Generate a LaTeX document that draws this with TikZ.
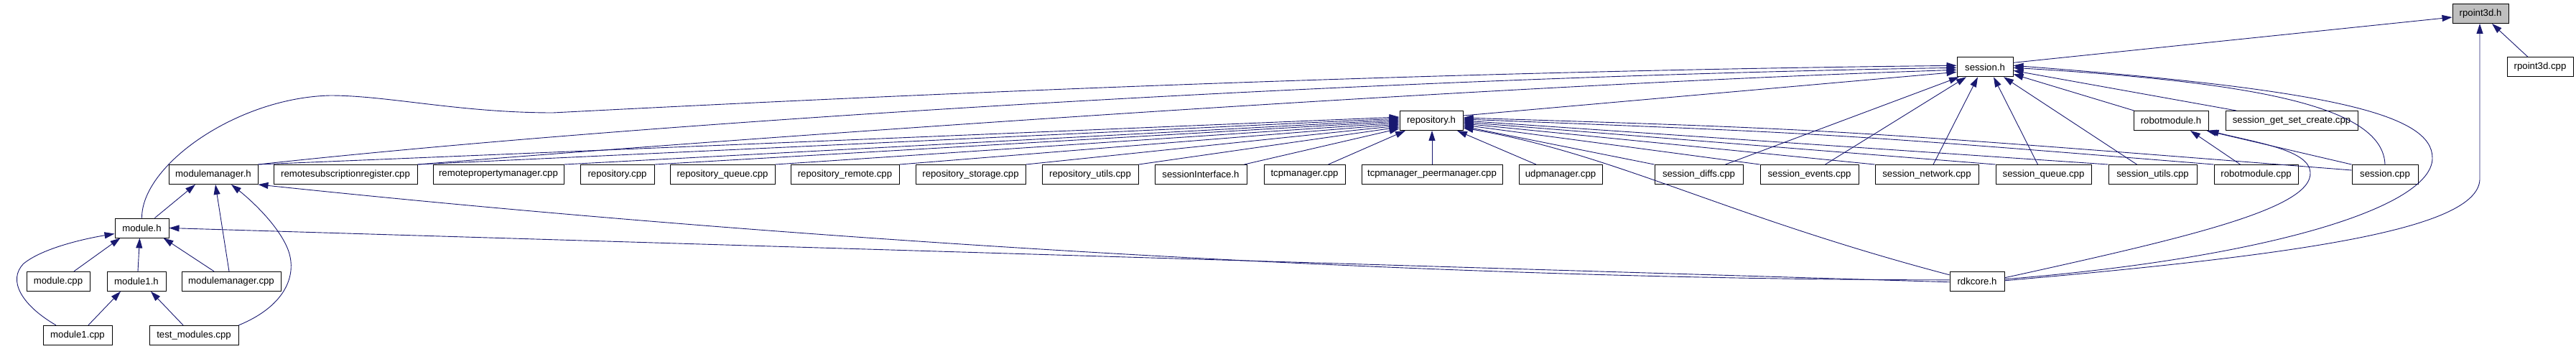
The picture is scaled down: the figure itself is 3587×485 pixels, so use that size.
\documentclass[tikz,border=0pt]{standalone}
\usepackage{fontspec}
\setmainfont{Liberation Sans}
\usetikzlibrary{arrows.meta}
\definecolor{mblue}{HTML}{191970}
\definecolor{ngray}{HTML}{BFBFBF}
\tikzset{
  box/.style={draw=black, line width=0.95pt, fill=white, minimum height=27pt, inner sep=0pt, font=\fontsize{13.2}{15}\selectfont},
  edge/.style={draw=mblue, line width=0.9pt, -{Triangle[length=14pt,width=9pt]}},
}
\begin{document}
\begin{tikzpicture}[x=1pt,y=-1pt]
\useasboundingbox (0,0) rectangle (3587,485);
% row 0
\node[box, fill=ngray, minimum width=78pt] (rp) at (3454,19) {rpoint3d.h};
% row 1
\node[box, minimum width=78pt] (sh) at (2764,93.3) {session.h};
\node[box, minimum width=92pt] (rpcpp) at (3537,93.3) {rpoint3d.cpp};
% row 2
\node[box, minimum width=88pt] (repo) at (1993,168) {repository.h};
\node[box, minimum width=104pt] (rmh) at (3023,168) {robotmodule.h};
\node[box, minimum width=184pt] (sgsc) at (3191,168) {session\_get\_set\_create.cpp};
% row 3
\node[box, minimum width=124pt] (mm) at (297,243) {modulemanager.h};
\node[box, minimum width=200pt] (rs) at (481,243) {remotesubscriptionregister.cpp};
\node[box, minimum width=182pt] (rpm) at (694,243) {remotepropertymanager.cpp};
\node[box, minimum width=103pt] (rc) at (859.5,243) {repository.cpp};
\node[box, minimum width=146pt] (rq) at (1006,243) {repository\_queue.cpp};
\node[box, minimum width=151pt] (rr) at (1176.5,243) {repository\_remote.cpp};
\node[box, minimum width=153pt] (rst) at (1351.5,243) {repository\_storage.cpp};
\node[box, minimum width=134pt] (ru) at (1518,243) {repository\_utils.cpp};
\node[box, minimum width=128pt] (si) at (1672,243) {sessionInterface.h};
\node[box, minimum width=113pt] (tm) at (1816.5,243) {tcpmanager.cpp};
\node[box, minimum width=196pt] (tp) at (1994,243) {tcpmanager\_peermanager.cpp};
\node[box, minimum width=116pt] (um) at (2173,243) {udpmanager.cpp};
\node[box, minimum width=123pt] (sd) at (2365.5,243) {session\_diffs.cpp};
\node[box, minimum width=137pt] (se) at (2519.5,243) {session\_events.cpp};
\node[box, minimum width=144pt] (sn) at (2683,243) {session\_network.cpp};
\node[box, minimum width=133pt] (sq) at (2845.5,243) {session\_queue.cpp};
\node[box, minimum width=123pt] (su) at (2997.5,243) {session\_utils.cpp};
\node[box, minimum width=117pt] (rmc) at (3141.5,243) {robotmodule.cpp};
\node[box, minimum width=92pt] (scpp) at (3321,243) {session.cpp};
% row 4
\node[box, minimum width=75pt] (mh) at (197.5,317.5) {module.h};
% row 5
\node[box, minimum width=88pt] (mc) at (81,391.8) {module.cpp};
\node[box, minimum width=82pt] (m1h) at (190,391.8) {module1.h};
\node[box, minimum width=138pt] (mmc) at (322,391.8) {modulemanager.cpp};
\node[box, minimum width=76pt] (rdk) at (2753,391.8) {rdkcore.h};
% row 6
\node[box, minimum width=96pt] (m1c) at (108,466.8) {module1.cpp};
\node[box, minimum width=124pt] (tmc) at (270,466.8) {test\_modules.cpp};

% rpoint3d.h
\draw[edge] ([yshift=6]sh.east) -- ([yshift=-5]rp.west);
\draw[edge] ([yshift=1]rdk.east) .. controls (3200,355) and (3450,320) .. (3453,250) -- ([xshift=-1]rp.south);
\draw[edge] ([xshift=-17]rpcpp.north) -- ([xshift=16]rp.south);

% session.h
\draw[edge] (mh.north) .. controls (197,230) and (330,136) .. (460,133) .. controls (540,133) and (640,157) .. (770,157) .. controls (1100,140) and (1900,100) .. ([yshift=2]sh.west);
\draw[edge] (mm.north east) .. controls (900,170) and (1900,108) .. ([yshift=-1]sh.west);
\draw[edge] (rs.north east) .. controls (1200,180) and (2100,118) .. ([yshift=-4]sh.west);
\draw[edge] ([yshift=7]repo.east) -- ([yshift=-7]sh.west);
\draw[edge] ([xshift=37]sd.north) -- ([xshift=-36]sh.south);
\draw[edge] ([xshift=22]se.north) -- ([xshift=-26]sh.south);
\draw[edge] ([xshift=9]sn.north) -- ([xshift=-10]sh.south);
\draw[edge] ([xshift=-8]sq.north) -- ([xshift=12]sh.south);
\draw[edge] ([xshift=-22]su.north) -- ([xshift=26]sh.south);
\draw[edge] ([xshift=1]rmh.north west) -- ([yshift=-10]sh.east);
\draw[edge] ([xshift=-77]sgsc.north) -- ([yshift=-5]sh.east);
\draw[edge] (scpp.north) .. controls (3318,150) and (3150,115) .. ([yshift=-1]sh.east);
\draw[edge] ([yshift=3]rdk.east) .. controls (3150,360) and (3387,290) .. (3387,220) .. controls (3387,160) and (3250,125) .. ([yshift=2]sh.east);

% repository.h, from the left
\draw[edge] (mm.north east) -- ([yshift=5]repo.west);
\draw[edge] (rs.north east) -- ([yshift=3]repo.west);
\draw[edge] (rpm.north east) -- ([yshift=1]repo.west);
\draw[edge] (rc.north east) -- ([yshift=-1]repo.west);
\draw[edge] (rq.north east) -- ([yshift=-3]repo.west);
\draw[edge] (rr.north east) -- ([yshift=-5]repo.west);
\draw[edge] (rst.north east) -- ([yshift=-7]repo.west);
\draw[edge] (ru.north east) -- ([yshift=-9]repo.west);
\draw[edge] ([xshift=-4]si.north east) -- ([yshift=-11]repo.west);
\draw[edge] ([xshift=33]tm.north) -- ([xshift=-36]repo.south);
\draw[edge] (tp.north) -- (tp.north |- repo.south);
\draw[edge] ([xshift=-34]um.north) -- ([xshift=36]repo.south);
% repository.h, from the right
\draw[edge] (sd.north west) -- ([yshift=-8]repo.east);
\draw[edge] (se.north west) -- ([yshift=-6]repo.east);
\draw[edge] (sn.north west) -- ([yshift=-4]repo.east);
\draw[edge] (sq.north west) -- ([yshift=-2]repo.east);
\draw[edge] (su.north west) -- (repo.east);
\draw[edge] (rmc.north west) .. controls (2550,186) .. ([yshift=2]repo.east);
\draw[edge] ([yshift=6]scpp.west) .. controls (2550,180) .. ([yshift=4]repo.east);
\draw[edge] ([yshift=9]rdk.west) .. controls (2400,300) and (2250,215) .. ([yshift=-10]repo.east);

% robotmodule.h
\draw[edge] ([xshift=-22]rmc.north) -- ([xshift=27]rmh.south);
\draw[edge] (scpp.north west) -- ([xshift=-3]rmh.south east);
\draw[edge] ([yshift=5]rdk.east) .. controls (3050,330) and (3220,290) .. (3217,240) .. controls (3215,210) and (3150,200) .. (rmh.south east);

% module.h
\draw[edge] ([xshift=22]mc.north) -- ([xshift=-30]mh.south);
\draw[edge] ([xshift=2]m1h.north) -- ([xshift=-3]mh.south);
\draw[edge] ([xshift=-24]mmc.north) -- ([xshift=30]mh.south);
\draw[edge] ([xshift=-30]m1c.north) .. controls (30,425) and (10,390) .. (33,367) .. controls (60,345) and (120,332) .. ([yshift=-8]mh.west);
\draw[edge] ([yshift=-1]rdk.west) -- (mh.east);

% modulemanager.h
\draw[edge] ([xshift=18]mh.north) -- ([xshift=-25]mm.south);
\draw[edge] ([xshift=-3]mmc.north) -- ([xshift=3]mm.south);
\draw[edge] (tmc.north east) .. controls (400,425) and (415,380) .. (400,345) .. controls (385,310) and (345,275) .. ([xshift=25]mm.south);
\draw[edge] ([yshift=2]rdk.west) .. controls (2000,390) and (1100,335) .. (mm.south east);

% module1.h
\draw[edge] ([xshift=15]m1c.north) -- ([xshift=-22]m1h.south);
\draw[edge] ([xshift=-15]tmc.north) -- ([xshift=20]m1h.south);
\end{tikzpicture}
\end{document}
